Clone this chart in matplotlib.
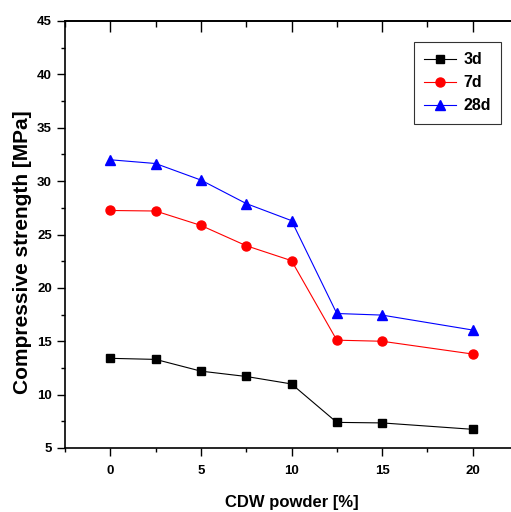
import matplotlib
matplotlib.use("Agg")
import matplotlib.pyplot as plt
from matplotlib.ticker import MultipleLocator

plt.rcParams['font.family'] = ['Liberation Sans', 'DejaVu Sans']
plt.rcParams['font.weight'] = 'bold'

cdw = [0, 2.5, 5, 7.5, 10, 12.5, 15, 20]
s3d = [13.4, 13.3, 12.2, 11.7, 11.0, 7.4, 7.35, 6.75]
s7d = [27.25, 27.2, 25.85, 23.95, 22.55, 15.1, 15.0, 13.8]
s28d = [32.0, 31.65, 30.1, 27.9, 26.3, 17.6, 17.45, 16.05]
xticks = [0, 5, 10, 15, 20]
yticks = [5, 10, 15, 20, 25, 30, 35, 40, 45]

fig = plt.figure(figsize=(5.11, 5.12), dpi=100)
ax = fig.add_axes([65/511, 1 - 448/512, (518-65)/511, (448-21)/512])

ax.plot(cdw, s3d, color='black', lw=0.8, marker='s', ms=6, label='3d')
ax.plot(cdw, s7d, color='red', lw=0.8, marker='o', ms=6.5, label='7d')
ax.plot(cdw, s28d, color='blue', lw=0.8, marker='^', ms=7.5, label='28d')

ax.set_xlim(-2.5, 22.5)
ax.set_ylim(5, 45)
ax.set_xticks(xticks)
ax.set_yticks(yticks)
ax.xaxis.set_minor_locator(MultipleLocator(2.5))
ax.yaxis.set_minor_locator(MultipleLocator(2.5))
ax.tick_params(which='major', direction='out', length=6, width=1, labelsize=9.5,
               top=False, right=False)
ax.tick_params(axis='x', which='major', pad=6)
ax.tick_params(which='minor', direction='out', length=3, width=1, top=False, right=False)
for lab in ax.get_xticklabels() + ax.get_yticklabels():
    lab.set_fontweight('bold')

sec = ax.secondary_xaxis('top')
sec.set_xticks(xticks)
sec.xaxis.set_minor_locator(MultipleLocator(2.5))
sec.tick_params(which='major', direction='in', length=8, width=1, labeltop=False)
sec.tick_params(which='minor', direction='in', length=4, width=1)

for sp in ax.spines.values():
    sp.set_linewidth(1.2)
sec.spines['top'].set_linewidth(1.2)

ax.set_xlabel('CDW powder [%]', fontsize=12, fontweight='bold', va='center')
ax.xaxis.set_label_coords(0.5, (448 - 502) / 427)
ax.set_ylabel('Compressive strength [MPa]', fontsize=15, fontweight='bold', va='center')
ax.yaxis.set_label_coords((23 - 65) / 453, (448 - 252.5) / 427)

leg = ax.legend(loc='upper right', bbox_to_anchor=((501-65)/453, (448-42)/427),
                borderaxespad=0, fontsize=11.5, frameon=True, fancybox=False,
                edgecolor='black', handlelength=2.0, handletextpad=0.45,
                labelspacing=0.5, borderpad=0.65)
leg.get_frame().set_linewidth(0.8)
for t in leg.get_texts():
    t.set_fontweight('bold')

fig.savefig('out.png', dpi=100)
